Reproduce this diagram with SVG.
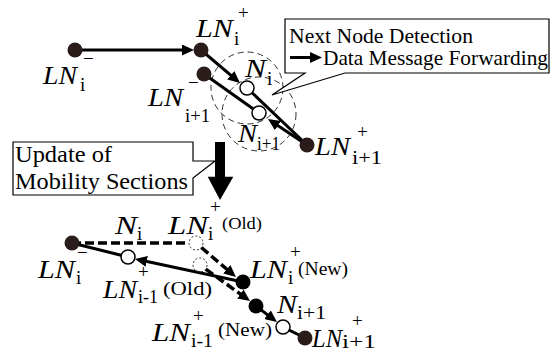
<svg xmlns="http://www.w3.org/2000/svg" width="556" height="352" viewBox="0 0 556 352">
<defs>
<style>
text{font-family:'Liberation Serif','Times New Roman',serif;fill:#000}
.it{font-style:italic;font-size:25px}
.sb{font-size:19px}
.ln{stroke:#000;stroke-width:3;fill:none}
.dl{stroke:#000;stroke-width:3.5;fill:none;stroke-dasharray:9 4}
.dot{fill:#2a1c1a}
.bdot{fill:#000}
.open{fill:#fff;stroke:#000;stroke-width:1.5}
.dc{fill:none;stroke:#333;stroke-width:1;stroke-dasharray:6 4}
.pc{fill:none;stroke:#333;stroke-width:1;stroke-dasharray:2 2}
.box{fill:#fff;stroke:#000;stroke-width:1.2}
</style>
<marker id="ah" markerUnits="userSpaceOnUse" markerWidth="13" markerHeight="11" refX="8" refY="5.5" orient="auto">
<path d="M0,0 L12,5.5 L0,11 z" fill="#000"/>
</marker>
</defs>

<g id="zones">
<circle class="dc" cx="247" cy="88" r="36"/>
<circle class="dc" cx="259" cy="114" r="37"/>
</g>

<g id="connectors">
<line class="ln" x1="82" y1="50" x2="190" y2="50" marker-end="url(#ah)"/>
<line class="ln" x1="201" y1="50" x2="236.9" y2="80.4" marker-end="url(#ah)"/>
<line class="ln" x1="247" y1="88" x2="307" y2="145"/>
<line class="ln" x1="204" y1="74" x2="259" y2="113"/>
<line class="ln" x1="307" y1="145" x2="271.3" y2="121.2" marker-end="url(#ah)"/>

<line class="ln" x1="72" y1="243" x2="128" y2="257"/>
<line class="ln" x1="243" y1="282" x2="138.9" y2="259.8" marker-end="url(#ah)"/>
<line class="dl" x1="72" y1="243" x2="189" y2="243"/>
<line class="dl" x1="201.4" y1="247.5" x2="232.9" y2="274.5" marker-end="url(#ah)"/>
<line class="dl" x1="205.7" y1="269.1" x2="246.8" y2="298.7" marker-end="url(#ah)"/>
<line class="ln" x1="256" y1="306" x2="273.8" y2="319.6" marker-end="url(#ah)"/>
<line class="ln" x1="283" y1="327" x2="305" y2="338"/>
</g>

<g id="callout-detection">
<path class="box" d="M285,19 H549 V73 H345 L272,95 L305,73 H285 Z"/>
<text x="289" y="43" font-size="21" textLength="184" lengthAdjust="spacingAndGlyphs">Next Node Detection</text>
<line class="ln" x1="290" y1="57.5" x2="318" y2="57.5" marker-end="url(#ah)"/>
<text x="323" y="65" font-size="21" textLength="225" lengthAdjust="spacingAndGlyphs">Data Message Forwarding</text>
</g>

<g id="callout-update">
<path class="box" d="M13,142 H193 V161 L215,161 L193,178 V195 H13 Z"/>
<text x="15" y="162" font-size="23" textLength="97" lengthAdjust="spacingAndGlyphs">Update of</text>
<text x="15" y="189" font-size="23" textLength="173" lengthAdjust="spacingAndGlyphs">Mobility Sections</text>
</g>

<g id="update-arrow">
<path d="M215,142 H225 V176.7 H233.3 L220,200 L207.7,176.7 H215 Z" fill="#000"/>
</g>

<g id="LN-i-minus">
<circle class="dot" cx="75" cy="50" r="7.5"/>
<text class="it" x="43" y="84" textLength="34" lengthAdjust="spacingAndGlyphs">LN</text>
<text class="sb" x="80" y="91">i</text>
<text class="sb" x="83" y="65">−</text>
</g>

<g id="LN-i-plus">
<circle class="dot" cx="201" cy="50" r="7.5"/>
<text class="it" x="196" y="37" textLength="37" lengthAdjust="spacingAndGlyphs">LN</text>
<text class="sb" x="234" y="45">i</text>
<text class="sb" x="238" y="19">+</text>
</g>

<g id="LN-i1-minus">
<circle class="dot" cx="204" cy="74" r="7.5"/>
<text class="it" x="148" y="106" textLength="35" lengthAdjust="spacingAndGlyphs">LN</text>
<text class="sb" x="185" y="122" textLength="25" lengthAdjust="spacingAndGlyphs">i+1</text>
<text class="sb" x="188" y="89">−</text>
</g>

<g id="N-i">
<circle class="open" cx="247" cy="88" r="7"/>
<text class="it" x="245" y="77" textLength="21" lengthAdjust="spacingAndGlyphs">N</text>
<text class="sb" x="267" y="85">i</text>
</g>

<g id="N-i1">
<circle class="open" cx="259" cy="113" r="7"/>
<text class="it" x="238" y="142" textLength="19" lengthAdjust="spacingAndGlyphs">N</text>
<text class="sb" x="257" y="150" textLength="23" lengthAdjust="spacingAndGlyphs">i+1</text>
</g>

<g id="LN-i1-plus">
<circle class="dot" cx="307" cy="145" r="7.5"/>
<text class="it" x="315" y="155" textLength="35" lengthAdjust="spacingAndGlyphs">LN</text>
<text class="sb" x="352" y="164" textLength="30" lengthAdjust="spacingAndGlyphs">i+1</text>
<text class="sb" x="357" y="138">+</text>
</g>

<g id="b-LN-i-minus">
<circle class="dot" cx="72" cy="243" r="7.5"/>
<text class="it" x="38" y="278" textLength="37" lengthAdjust="spacingAndGlyphs">LN</text>
<text class="sb" x="76" y="284">i</text>
<text class="sb" x="77" y="259">−</text>
</g>

<g id="b-N-i">
<circle class="open" cx="128" cy="257" r="7"/>
<text class="it" x="115" y="234" textLength="22" lengthAdjust="spacingAndGlyphs">N</text>
<text class="sb" x="137" y="240">i</text>
</g>

<g id="b-LN-i-plus-old">
<circle class="pc" cx="196" cy="243" r="7"/>
<text class="it" x="168" y="234" textLength="40" lengthAdjust="spacingAndGlyphs">LN</text>
<text class="sb" x="208" y="240">i</text>
<text class="sb" x="210" y="213">+</text>
<text x="222" y="229" font-size="16" textLength="40" lengthAdjust="spacingAndGlyphs">(Old)</text>
</g>

<g id="b-LN-i1m-plus-old">
<circle class="pc" cx="200" cy="265" r="7"/>
<text class="it" x="103" y="298" textLength="34" lengthAdjust="spacingAndGlyphs">LN</text>
<text class="sb" x="138" y="303" textLength="20" lengthAdjust="spacingAndGlyphs">i-1</text>
<text class="sb" x="138" y="278">+</text>
<text x="163" y="295" font-size="19" textLength="49" lengthAdjust="spacingAndGlyphs">(Old)</text>
</g>

<g id="b-LN-i-plus-new">
<circle class="bdot" cx="243" cy="282" r="7.5"/>
<text class="it" x="250" y="278" textLength="37" lengthAdjust="spacingAndGlyphs">LN</text>
<text class="sb" x="288" y="284">i</text>
<text class="sb" x="290" y="258">+</text>
<text x="298" y="275" font-size="19" textLength="50" lengthAdjust="spacingAndGlyphs">(New)</text>
</g>

<g id="b-LN-i1m-plus-new">
<circle class="bdot" cx="256" cy="306" r="7.5"/>
<text class="it" x="152" y="341" textLength="38" lengthAdjust="spacingAndGlyphs">LN</text>
<text class="sb" x="191" y="347" textLength="22" lengthAdjust="spacingAndGlyphs">i-1</text>
<text class="sb" x="193" y="322">+</text>
<text x="218" y="336" font-size="19" textLength="54" lengthAdjust="spacingAndGlyphs">(New)</text>
</g>

<g id="b-N-i1">
<circle class="open" cx="283" cy="327" r="7"/>
<text class="it" x="277" y="313" textLength="20" lengthAdjust="spacingAndGlyphs">N</text>
<text class="sb" x="297" y="319" textLength="29" lengthAdjust="spacingAndGlyphs">i+1</text>
</g>

<g id="b-LN-i1-plus">
<circle class="dot" cx="305" cy="338" r="7.5"/>
<text class="it" x="312" y="347" textLength="30" lengthAdjust="spacingAndGlyphs">LN</text>
<text class="sb" x="342" y="348" font-size="17" textLength="34" lengthAdjust="spacingAndGlyphs">i+1</text>
<text class="sb" x="352" y="327">+</text>
</g>
</svg>
